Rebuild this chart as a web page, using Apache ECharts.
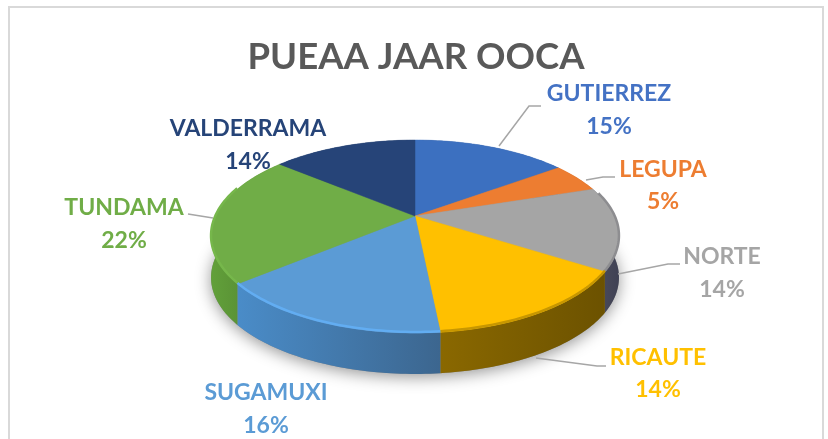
<!DOCTYPE html>
<html>
<head>
<meta charset="utf-8">
<script src="https://cdn.jsdelivr.net/npm/echarts@6/dist/echarts.min.js"></script>
<style>html,body{margin:0;padding:0;background:#fff}#c{width:828px;height:439px}</style>
</head>
<body>
<div id="c"></div>
<script>
const titleText = 'PUEAA JAAR OOCA';
const names = ['GUTIERREZ', 'LEGUPA', 'NORTE', 'RICAUTE', 'SUGAMUXI', 'TUNDAMA', 'VALDERRAMA'];
const values = [15, 5, 14, 14.4, 15.6, 22, 14];
const colors = ['#3c70c0', '#ed7d31', '#a5a5a5', '#ffc000', '#5b9bd5', '#70ad47', '#264478'];
const labelColors = ['#4472c4', '#ed7d31', '#a5a5a5', '#ffc000', '#5b9bd5', '#70ad47', '#264478'];
const wallLeft = ['#2c5390', '#b25d25', '#4e4e5c', '#8a6800', '#4a8cc8', '#62a03a', '#1c3359'];
const wallRight = ['#2c5390', '#b25d25', '#3f4154', '#6c5200', '#3c668f', '#4e7f2f', '#1c3359'];
const bevel = ['#3c70c0', '#ed7d31', '#8d8d90', '#c89700', '#62adf2', '#76b74b', '#264478'];

const layout = {
  GUTIERREZ: { x: 609, y1: 94, y2: 127, leader: [[499, 146], [529, 106], [541, 106]] },
  LEGUPA: { x: 663, y1: 170, y2: 202, leader: [[586, 180], [603, 177], [615, 177]] },
  NORTE: { x: 722, y1: 257, y2: 290, leader: [[618, 274], [668, 264], [680, 264]] },
  RICAUTE: { x: 658, y1: 358, y2: 390, leader: [[536, 358], [597, 366], [606, 366]] },
  SUGAMUXI: { x: 266, y1: 393, y2: 426, leader: null },
  TUNDAMA: { x: 124, y1: 208, y2: 241, leader: [[188, 214], [213, 218]] },
  VALDERRAMA: { x: 248, y1: 129, y2: 162, leader: null }
};

const pie = { cx: 415, cy: 216, a: 199.3, b: 92.1, p: 0.2124, depth: 41 };
const total = values.reduce((s, v) => s + v, 0);

function project(theta, dy) {
  const x = Math.sin(theta), y = Math.cos(theta), w = 1 + pie.p * y;
  return [pie.cx + pie.a * x / w, pie.cy - pie.b * y / w + (dy || 0)];
}
function arc(t0, t1, dy) {
  const n = Math.max(2, Math.ceil((t1 - t0) / 0.02));
  const pts = [];
  for (let i = 0; i <= n; i++) pts.push(project(t0 + (t1 - t0) * i / n, dy));
  return pts;
}

function renderItem(params, api) {
  const i = params.dataIndex;
  let before = 0;
  for (let k = 0; k < i; k++) before += api.value(0, k);
  const val = api.value(0);
  const t0 = before / total * Math.PI * 2;
  const t1 = (before + val) / total * Math.PI * 2;
  const top = arc(t0, t1, 0);
  const low = arc(t0, t1, pie.depth).reverse();
  const children = [];

  if (i === 0) {
    children.push({
      type: 'polygon', z2: 1, silent: true,
      shape: { points: arc(0, Math.PI * 2, pie.depth) },
      style: { fill: '#8a8a8a', shadowBlur: 16, shadowColor: 'rgba(0,0,0,0.42)', shadowOffsetY: 3 }
    });
  }
  children.push({
    type: 'polygon', z2: 2,
    shape: { points: top.concat(low) },
    style: {
      fill: { type: 'linear', x: 0, y: 0, x2: 1, y2: 0,
        colorStops: [{ offset: 0, color: wallLeft[i] }, { offset: 1, color: wallRight[i] }] }
    }
  });
  children.push({
    type: 'polygon', z2: 5,
    shape: { points: [[pie.cx, pie.cy]].concat(top) },
    style: { fill: colors[i], stroke: colors[i], lineWidth: 0.5 }
  });
  const front = arc(Math.max(t0, Math.PI * 0.42), Math.min(t1, Math.PI * 1.6), 0);
  if (t1 > Math.PI * 0.42 && t0 < Math.PI * 1.6) {
    children.push({
      type: 'polyline', z2: 6, silent: true,
      shape: { points: front.map(p => [p[0], p[1] - 1]) },
      style: { fill: null, stroke: bevel[i], lineWidth: 2.5 }
    });
  }
  const L = layout[names[i]];
  if (L.leader) {
    children.push({
      type: 'polyline', z2: 8, silent: true,
      shape: { points: L.leader },
      style: { fill: null, stroke: '#a6a6a6', lineWidth: 1.5 }
    });
  }
  const font = { fontFamily: 'Lato', fontWeight: 'bold', fontSize: 23, fill: labelColors[i], align: 'center', verticalAlign: 'middle' };
  children.push({ type: 'text', z2: 9, style: Object.assign({ text: names[i], x: L.x, y: L.y1 }, font) });
  children.push({ type: 'text', z2: 9, style: Object.assign({ text: Math.round(val / total * 100) + '%', x: L.x, y: L.y2 }, font) });
  return { type: 'group', children };
}

const chart = echarts.init(document.getElementById('c'), null, { renderer: 'canvas' });
chart.setOption({
  animation: false,
  backgroundColor: '#ffffff',
  title: {
    text: titleText, left: 411, top: 34, textAlign: 'center',
    textStyle: { fontFamily: 'Lato', fontWeight: 'bold', fontSize: 36.5, color: '#595959' }
  },
  graphic: [{
    type: 'rect', silent: true, z: -1,
    shape: { x: 9, y: 7, width: 814, height: 460 },
    style: { fill: '#ffffff', stroke: '#d9d9d9', lineWidth: 2 }
  }],
  series: [{
    type: 'custom',
    coordinateSystem: 'none',
    renderItem,
    data: names.map((n, i) => ({ name: n, value: values[i] })),
    encode: { value: 0 }
  }]
});
</script>
</body>
</html>
